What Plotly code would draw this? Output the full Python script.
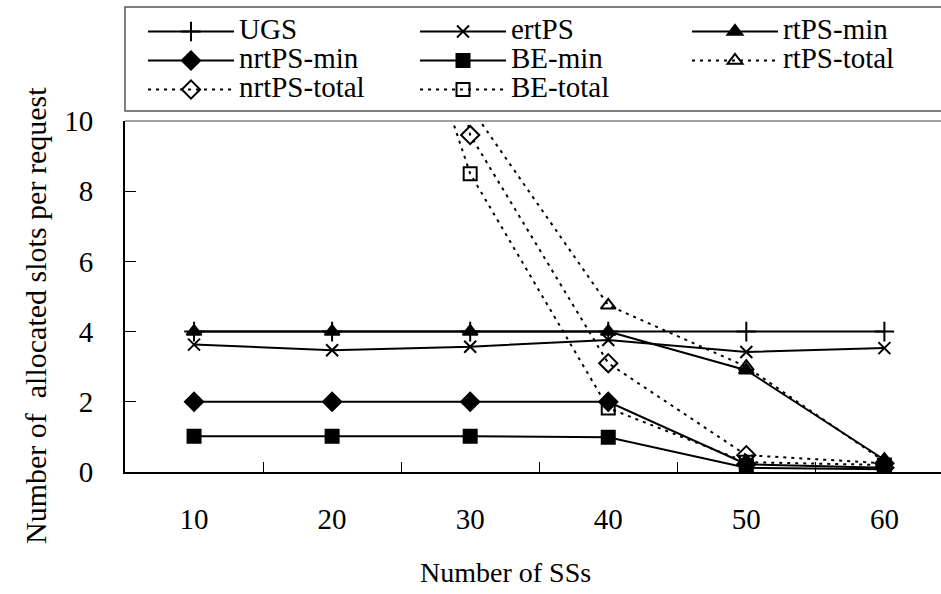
import plotly.graph_objects as go

categories = ["10", "20", "30", "40", "50", "60"]
ugs = [4.0, 4.0, 4.0, 4.0, 4.0, 4.0]
ertps = [3.63, 3.47, 3.57, 3.76, 3.42, 3.53]
rtps_min = [4.0, 4.0, 4.0, 4.0, 2.9, 0.35]
nrtps_min = [2.0, 2.0, 2.0, 2.0, 0.22, 0.12]
be_min = [1.02, 1.02, 1.02, 0.99, 0.12, 0.08]
rtps_total = [40.0, 25.0, 10.4, 4.75, 3.0, 0.3]
nrtps_total = [40.0, 30.0, 9.6, 3.1, 0.48, 0.25]
be_total = [35.0, 20.3, 8.5, 1.82, 0.28, 0.2]
y_ticks = [0, 2, 4, 6, 8, 10]

FONT = "Liberation Serif, Times New Roman, serif"
LEG_SIZE = 29

series = [
    ("UGS", ugs, "solid", "cross-thin", 14, "black"),
    ("ertPS", ertps, "solid", "x-thin", 12, "black"),
    ("rtPS-min", rtps_min, "solid", "triangle-up", 13, "black"),
    ("nrtPS-min", nrtps_min, "solid", "diamond", 14, "black"),
    ("BE-min", be_min, "solid", "square", 13, "black"),
    ("rtPS-total", rtps_total, "3px,5px", "triangle-up-open", 13, "black"),
    ("nrtPS-total", nrtps_total, "3px,5px", "diamond-open", 14, "black"),
    ("BE-total", be_total, "3px,5px", "square-open", 13, "black"),
]

fig = go.Figure()
for name, vals, dash, sym, size, col in series:
    fig.add_trace(go.Scatter(
        x=categories, y=vals, mode="lines+markers",
        name="<span style='font-family:Liberation Serif;font-size:%dpx'>%s</span>" % (LEG_SIZE, name),
        line=dict(color="black", width=2, dash=dash),
        marker=dict(symbol=sym, size=size, color=col,
                    line=dict(color="black", width=2)),
    ))

W, H = 941, 594
L, R, T, B = 125, 0, 121, 122
ph = H - T - B


def py(pix):
    return (H - B - pix) / ph


def px(pix):
    return (pix - L) / (W - L - R)


fig.update_layout(
    width=W, height=H,
    margin=dict(l=L, r=R, t=T, b=B, autoexpand=False),
    paper_bgcolor="white", plot_bgcolor="white",
    font=dict(family=FONT, size=28, color="black"),
    showlegend=True,
    legend=dict(
        orientation="h", x=px(143), xanchor="left", y=py(12), yanchor="top",
        font=dict(family=FONT, size=20, color="black"),
        itemwidth=86, entrywidth=171, entrywidthmode="pixels",
        bgcolor="rgba(0,0,0,0)", borderwidth=0, traceorder="normal",
        itemclick=False,
    ),
    xaxis=dict(
        type="category", range=[-0.5, 5.41], tickson="boundaries",
        ticks="inside", ticklen=10, tickcolor="black", tickwidth=1,
        showline=True, linecolor="black", linewidth=2, showgrid=False,
        zeroline=False, tickfont=dict(family=FONT, size=29),
        ticklabelstandoff=20,
    ),
    yaxis=dict(
        range=[0, 10], tickvals=y_ticks, ticks="inside", ticklen=11,
        tickcolor="black", tickwidth=1, showline=True, linecolor="black",
        linewidth=2, showgrid=False, zeroline=False,
        tickfont=dict(family=FONT, size=29), ticklabelstandoff=24,
    ),
    shapes=[
        dict(type="line", xref="paper", yref="paper", x0=0, x1=1.02, y0=1, y1=1,
             line=dict(color="#808080", width=1.5)),
        dict(type="rect", xref="paper", yref="paper", x0=0, x1=1.02,
             y0=py(111), y1=py(7), line=dict(color="#555555", width=1.5),
             fillcolor="rgba(0,0,0,0)"),
    ],
    annotations=[
        dict(text="Number of SSs", xref="paper", yref="paper", x=px(505), y=py(572),
             xanchor="center", yanchor="middle", showarrow=False,
             font=dict(family=FONT, size=28)),
        dict(text="Number of  allocated slots per request", xref="paper", yref="paper",
             x=px(35), y=py(316), xanchor="center", yanchor="middle", textangle=-90,
             showarrow=False, font=dict(family=FONT, size=30)),
    ],
)

fig.write_html("out.html")
